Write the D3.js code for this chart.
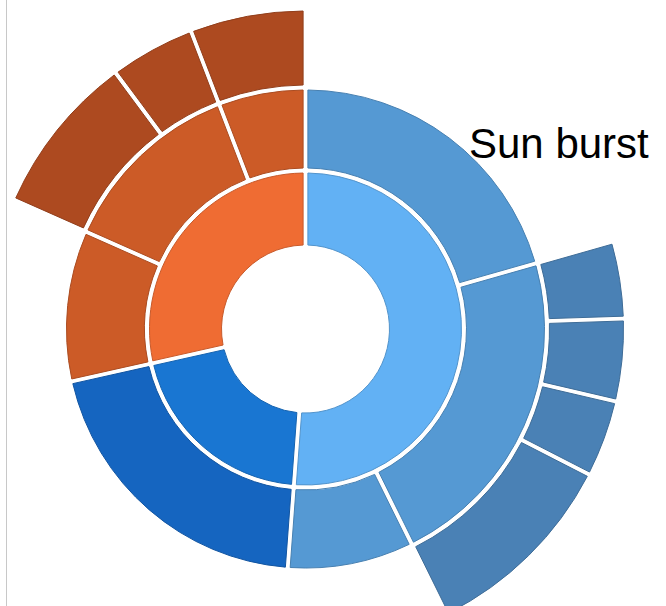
<!DOCTYPE html>
<html><head><meta charset="utf-8">
<script src="https://cdn.jsdelivr.net/npm/d3@7"></script>
<style>html,body{margin:0;padding:0;background:#fff;} svg{display:block;}</style>
</head><body>
<svg id="chart" width="666" height="606"></svg>
<script>
// ---------- data ----------
const title = "Sun burst";
const groups = ["Light blue", "Dark blue", "Orange"];
const ring2Names   = ["A1", "A2", "A3", "B1", "C1", "C2", "C3"];
const ring2Parents = ["Light blue", "Light blue", "Light blue", "Dark blue", "Orange", "Orange", "Orange"];
const ring2Values  = [74, 0, 30.5, 73, 36.5, 0, 0];
const ring3Names   = ["A2a", "A2b", "A2c", "A2d", "C2a", "C2b", "C3a"];
const ring3Parents = ["A2", "A2", "A2", "A2", "C2", "C2", "C3"];
const ring3Values  = [14, 15, 14, 36.5, 29.5, 15.5, 21];

// ---------- styles ----------
const groupColors = {
  "Light blue": ["#62b1f4", "#5599d3", "#4a81b5"],
  "Dark blue":  ["#1976d2", "#1565c0", "#1565c0"],
  "Orange":     ["#ef6c33", "#cc5b27", "#ad4a20"]
};

const rows = [{id: "root", parent: null, value: 0}];
groups.forEach(g => rows.push({id: g, parent: "root", value: 0}));
ring2Names.forEach((n, i) => rows.push({id: n, parent: ring2Parents[i], value: ring2Values[i]}));
ring3Names.forEach((n, i) => rows.push({id: n, parent: ring3Parents[i], value: ring3Values[i]}));

const root = d3.stratify().id(d => d.id).parentId(d => d.parent)(rows)
  .sum(d => d.value);
d3.partition().size([2 * Math.PI, 4])(root);

const cx = 305.5, cy = 329;
const r = d3.scaleLinear().domain([1, 2, 3, 4]).range([84, 161, 244, 323]);

const arc = d3.arc()
  .startAngle(d => d.x0)
  .endAngle(d => d.x1)
  .innerRadius(d => r(d.y0))
  .outerRadius(d => r(d.y1) - 5)
  .padRadius(100)
  .padAngle(0.048);

const svg = d3.select("#chart");

svg.append("line")
  .attr("x1", 6.5).attr("x2", 6.5).attr("y1", 0).attr("y2", 606)
  .attr("stroke", "#c8c8c8").attr("stroke-width", 1);

function groupOf(d) { let n = d; while (n.depth > 1) n = n.parent; return n.id; }
function colorOf(d) { return groupColors[groupOf(d)][d.depth - 1]; }

svg.append("g")
  .attr("transform", `translate(${cx},${cy})`)
  .selectAll("path")
  .data(root.descendants().filter(d => d.depth > 0))
  .join("path")
  .attr("d", arc)
  .attr("fill", d => colorOf(d))
  .attr("stroke", d => d3.color(colorOf(d)).darker(0.5))
  .attr("stroke-width", 1);

svg.append("text")
  .attr("x", 469)
  .attr("y", 158)
  .attr("font-family", "'Liberation Sans', Arial, sans-serif")
  .attr("font-size", 42)
  .attr("fill", "#000")
  .text(title);
</script>
</body></html>
